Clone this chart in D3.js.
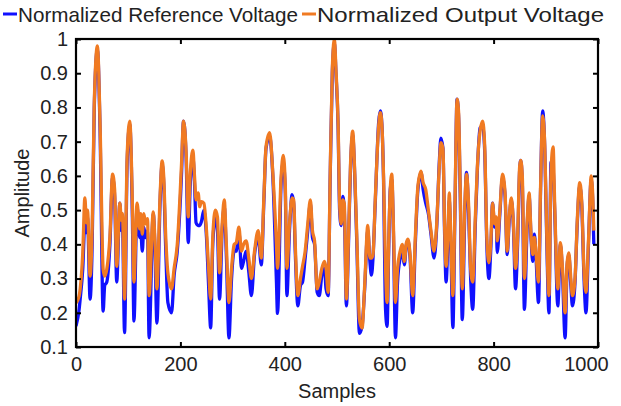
<!DOCTYPE html>
<html>
<head>
<meta charset="utf-8">
<script src="https://cdn.jsdelivr.net/npm/d3@7"></script>
<style>
  body { margin: 0; background: #fff; }
  svg text { font-family: "Liberation Sans", Arial, sans-serif; fill: #222; }
</style>
</head>
<body>
<div id="chart"></div>
<script>
"use strict";

// sample positions (peaks, troughs and turns)
const samples = [0,6,8,13,17,20,22,27,31,35,41,46,52,55,59,65,70,74,78,84,87,89,93,98,103,108,111,117,122,124,127,130,133,137,140,148,151,155,161,165,168,172,176,183,188,194,202,206,211,215,219,224,227,230,234,237,240,245,250,254,258,262,267,271,275,280,284,288,293,298,303,307,312,317,321,326,331,336,342,349,355,360,364,371,377,384,386,393,397,401,404,409,414,417,420,425,430,434,439,444,449,453,457,462,466,471,476,479,483,487,491,495,498,502,505,508,511,514,518,522,526,530,534,538,543,548,553,559,563,566,569,573,580,583,586,589,593,596,599,602,605,608,612,616,621,625,629,633,636,640,645,650,655,661,665,670,675,680,686,691,696,699,703,706,709,713,715,718,722,726,730,733,736,740,745,748,752,756,760,765,769,774,779,783,787,791,795,798,802,805,807,812,817,822,826,830,834,838,842,846,850,852,855,859,864,868,872,875,878,881,886,890,894,898,902,906,910,914,917,923,928,932,937,941,944,948,951,956,960,965,969,973,977,982,987,990,992];

const outputVoltage = [0.229,0.249,0.27,0.376,0.536,0.463,0.50,0.307,0.45,0.814,0.98,0.76,0.327,0.307,0.327,0.424,0.605,0.56,0.336,0.52,0.47,0.49,0.24,0.66,0.76,0.52,0.29,0.52,0.445,0.49,0.43,0.49,0.46,0.475,0.25,0.495,0.42,0.27,0.54,0.644,0.6,0.42,0.317,0.27,0.33,0.40,0.63,0.76,0.668,0.48,0.61,0.675,0.60,0.53,0.55,0.51,0.525,0.52,0.44,0.33,0.24,0.42,0.50,0.48,0.317,0.46,0.53,0.40,0.23,0.33,0.40,0.405,0.45,0.38,0.40,0.41,0.36,0.30,0.38,0.44,0.36,0.54,0.685,0.726,0.61,0.40,0.33,0.60,0.66,0.57,0.33,0.46,0.536,0.53,0.40,0.25,0.30,0.336,0.38,0.46,0.53,0.44,0.41,0.27,0.29,0.33,0.35,0.33,0.26,0.61,0.91,1.0,0.91,0.76,0.52,0.46,0.53,0.52,0.24,0.42,0.64,0.731,0.61,0.42,0.18,0.155,0.28,0.455,0.36,0.36,0.37,0.52,0.75,0.785,0.75,0.61,0.33,0.23,0.40,0.56,0.605,0.46,0.23,0.33,0.38,0.40,0.35,0.405,0.415,0.37,0.25,0.42,0.57,0.614,0.58,0.56,0.50,0.44,0.38,0.46,0.63,0.697,0.68,0.46,0.336,0.46,0.55,0.42,0.25,0.52,0.824,0.785,0.57,0.27,0.52,0.605,0.52,0.33,0.29,0.48,0.63,0.73,0.76,0.685,0.42,0.346,0.42,0.52,0.46,0.48,0.41,0.50,0.605,0.55,0.38,0.48,0.536,0.46,0.33,0.42,0.63,0.645,0.60,0.30,0.46,0.55,0.42,0.37,0.42,0.38,0.29,0.57,0.775,0.69,0.42,0.25,0.61,0.685,0.52,0.27,0.405,0.33,0.20,0.35,0.375,0.30,0.25,0.30,0.46,0.58,0.52,0.33,0.26,0.42,0.60,0.54,0.44];

const referenceVoltage = [0.161,0.21,0.24,0.33,0.463,0.434,0.48,0.24,0.40,0.80,0.97,0.74,0.205,0.28,0.29,0.40,0.595,0.54,0.29,0.52,0.44,0.46,0.142,0.64,0.75,0.48,0.176,0.51,0.42,0.44,0.38,0.45,0.42,0.44,0.127,0.49,0.40,0.17,0.52,0.635,0.58,0.38,0.23,0.2,0.31,0.38,0.60,0.76,0.65,0.405,0.58,0.655,0.58,0.463,0.455,0.455,0.465,0.50,0.42,0.28,0.156,0.40,0.48,0.44,0.24,0.44,0.51,0.37,0.127,0.30,0.38,0.38,0.44,0.33,0.35,0.38,0.32,0.25,0.37,0.42,0.34,0.53,0.68,0.715,0.60,0.29,0.198,0.58,0.64,0.55,0.25,0.44,0.545,0.52,0.38,0.22,0.28,0.29,0.36,0.44,0.52,0.42,0.40,0.26,0.25,0.31,0.33,0.27,0.25,0.60,0.90,0.99,0.90,0.75,0.50,0.455,0.54,0.50,0.22,0.40,0.63,0.72,0.60,0.40,0.14,0.16,0.27,0.44,0.35,0.31,0.36,0.51,0.76,0.79,0.75,0.60,0.21,0.16,0.38,0.56,0.59,0.44,0.127,0.29,0.36,0.38,0.34,0.40,0.41,0.36,0.2,0.40,0.56,0.61,0.56,0.52,0.49,0.43,0.36,0.45,0.64,0.71,0.68,0.44,0.29,0.44,0.53,0.40,0.157,0.50,0.824,0.77,0.55,0.18,0.50,0.61,0.50,0.30,0.21,0.46,0.62,0.74,0.745,0.67,0.40,0.30,0.40,0.52,0.45,0.47,0.376,0.49,0.595,0.54,0.37,0.47,0.53,0.45,0.27,0.40,0.62,0.645,0.58,0.21,0.44,0.54,0.41,0.35,0.43,0.37,0.23,0.56,0.79,0.68,0.40,0.20,0.64,0.62,0.50,0.22,0.40,0.31,0.127,0.34,0.37,0.28,0.22,0.29,0.45,0.57,0.51,0.31,0.20,0.41,0.59,0.52,0.40];

const xTicks = [0, 200, 400, 600, 800, 1000];
const yTicks = [0.1, 0.2, 0.3, 0.4, 0.5, 0.6, 0.7, 0.8, 0.9, 1];
const seriesNames = ["Normalized Reference Voltage", "Normalized Output Voltage"];
const seriesColors = ["#1010ff", "#f07a22"];

const width = 621, height = 406;
const margin = { top: 39, right: 23, bottom: 59, left: 76 };
const plotW = width - margin.left - margin.right;
const plotH = height - margin.top - margin.bottom;

const svg = d3.select("#chart").append("svg")
	.attr("width", width)
	.attr("height", height);

const x = d3.scaleLinear().domain([0, 1000]).range([0, plotW]);
const y = d3.scaleLinear().domain([0.1, 1]).range([plotH, 0]);

const g = svg.append("g").attr("transform", `translate(${margin.left},${margin.top})`);

// series lines, clipped to the plot box
svg.append("clipPath").attr("id", "plotClip")
	.append("rect").attr("width", plotW).attr("height", plotH + 2).attr("y", -1);

const line = d3.line()
	.x((d, i) => x(samples[i]))
	.y(d => y(d))
	.curve(d3.curveMonotoneX);

const lines = g.append("g").attr("clip-path", "url(#plotClip)");
[referenceVoltage, outputVoltage].forEach((vals, k) => {
	lines.append("path")
		.datum(vals)
		.attr("d", line)
		.attr("fill", "none")
		.attr("stroke", seriesColors[k])
		.attr("stroke-width", 3.3)
		.attr("stroke-linejoin", "round");
});

// axes: MATLAB style, ticks pointing inward
const fmt = d => String(d);
g.append("g").attr("transform", `translate(0,${plotH})`)
	.call(d3.axisBottom(x).tickValues(xTicks).tickSize(-5).tickPadding(10).tickFormat(fmt))
	.call(a => a.select(".domain").remove());
g.append("g")
	.call(d3.axisTop(x).tickValues(xTicks).tickSize(-5).tickFormat(""))
	.call(a => a.select(".domain").remove());
g.append("g")
	.call(d3.axisLeft(y).tickValues(yTicks).tickSize(-5).tickPadding(8).tickFormat(d3.format(".1~f")))
	.call(a => a.select(".domain").remove());
g.append("g").attr("transform", `translate(${plotW},0)`)
	.call(d3.axisRight(y).tickValues(yTicks).tickSize(-5).tickFormat(""))
	.call(a => a.select(".domain").remove());

g.selectAll(".tick line").attr("stroke", "#000").attr("stroke-width", 2);
g.selectAll(".tick text")
	.style("font-size", "20px")
	.attr("fill", "#222");
// last x label sits a bit left, as in the picture
g.selectAll(".tick text").filter(d => d === 1000).attr("dx", -12);

g.append("rect")
	.attr("width", plotW)
	.attr("height", plotH)
	.attr("fill", "none")
	.attr("stroke", "#000")
	.attr("stroke-width", 2.2);

// axis titles
svg.append("text")
	.attr("x", margin.left + plotW / 2)
	.attr("y", 398)
	.attr("text-anchor", "middle")
	.style("font-size", "20px")
	.text("Samples");

svg.append("text")
	.attr("transform", `translate(29,${margin.top + plotH / 2}) rotate(-90)`)
	.attr("text-anchor", "middle")
	.style("font-size", "20px")
	.text("Amplitude");

// legend across the top; widths stretched to the picture
const legendX = [3, 302];
const legendTextW = [280, 287];
seriesNames.forEach((name, k) => {
	const lg = svg.append("g").attr("transform", `translate(${legendX[k]},14)`);
	lg.append("line")
		.attr("x1", 0).attr("x2", 14)
		.attr("stroke", seriesColors[k])
		.attr("stroke-width", 3);
	lg.append("text")
		.attr("x", 15)
		.attr("dy", "0.36em")
		.attr("textLength", legendTextW[k])
		.attr("lengthAdjust", "spacingAndGlyphs")
		.style("font-size", "21px")
		.text(name);
});
</script>
</body>
</html>
